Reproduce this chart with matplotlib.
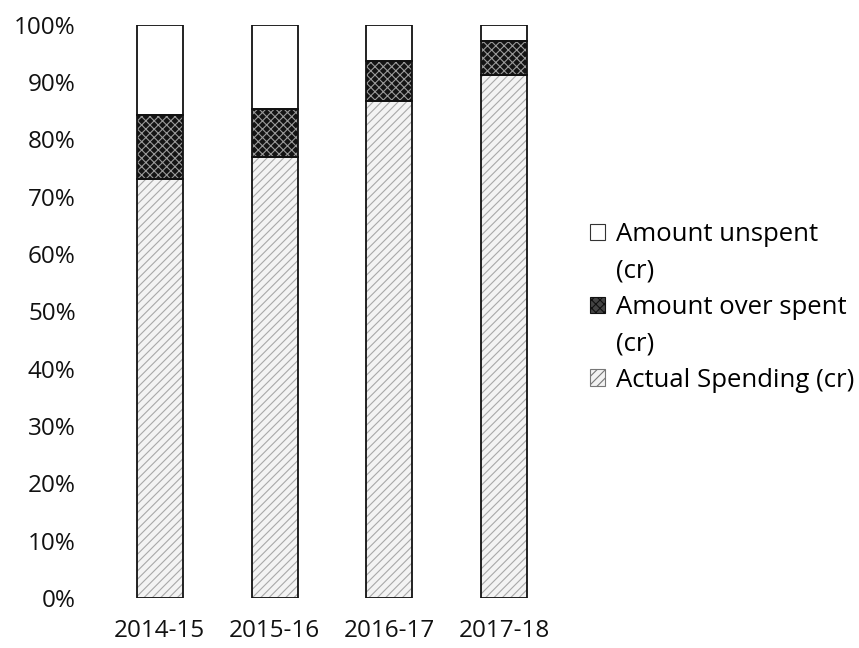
#! /usr/bin/python3

# 100% stacked bars: spending vs over spending vs unspent amount per year

import numpy as np
import matplotlib.pyplot as plt
from matplotlib.patches import Patch

plt.rcParams['font.family'] = ['Open Sans', 'DejaVu Sans']
plt.rcParams['hatch.linewidth'] = 0.8

# shares of each year's budget, in percent
years = ["2014-15", "2015-16", "2016-17", "2017-18"]
actual = [73.1, 77.0, 86.7, 91.2]
over = [11.2, 8.3, 6.9, 6.0]
unspent = [15.7, 14.7, 6.4, 2.8]

labels = ["Actual Spending (cr)", "Amount over spent\n(cr)", "Amount unspent\n(cr)"]

fig = plt.figure(figsize=(8.59, 6.48), dpi=100, facecolor="w")
ax = fig.add_axes([0.119, 0.077, 0.535, 0.885])

x = np.arange(len(years))
w = 0.4
a = np.array(actual)
o = np.array(over)
u = np.array(unspent)

# fills with hatching (hatch takes the edge colour), then black outlines on top
ax.bar(x, a, w, color="#f3f3f3", edgecolor="#a8a8a8", hatch="////", lw=0)
ax.bar(x, o, w, bottom=a, color="#141414", edgecolor="#9a9a9a", hatch="xxxx", lw=0)
ax.bar(x, u, w, bottom=a + o, color="white", edgecolor="white", lw=0)
for vals, bot in [(a, 0), (o, a), (u, a + o)]:
    ax.bar(x, vals, w, bottom=bot, facecolor="none", edgecolor="#111", lw=1.3)

ax.set_xlim(-0.5, len(years) - 0.5)
ax.set_ylim(0, 100)
ax.set_yticks(np.arange(0, 101, 10))
ax.set_yticklabels([f"{v}%" for v in range(0, 101, 10)])
ax.set_xticks(x)
ax.set_xticklabels(years)
ax.tick_params(length=0, labelsize=17.5, colors="#111")
ax.tick_params(axis="y", pad=19)
ax.tick_params(axis="x", pad=15)
for s in ax.spines.values():
    s.set_visible(False)

handles = [
    Patch(facecolor="white", edgecolor="#333", lw=0.8),
    Patch(facecolor="#444", edgecolor="#111", hatch="xxxx", lw=0.8),
    Patch(facecolor="#f2f2f2", edgecolor="#777", hatch="////", lw=0.8),
]
# wrapped labels: the swatch sits on the first line, extra lines get no swatch
leg_h, leg_t = [], []
for h, lab in zip(handles, labels[::-1]):
    for i, line in enumerate(lab.split("\n")):
        leg_h.append(h if i == 0 else Patch(visible=False))
        leg_t.append(line)
fig.legend(leg_h, leg_t, loc="center left", bbox_to_anchor=(0.66, 0.5255),
           frameon=False, fontsize=18.5, handlelength=0.6, handleheight=0.6,
           handletextpad=0.4, labelspacing=0.44)

plt.savefig("out.png", dpi=100)
